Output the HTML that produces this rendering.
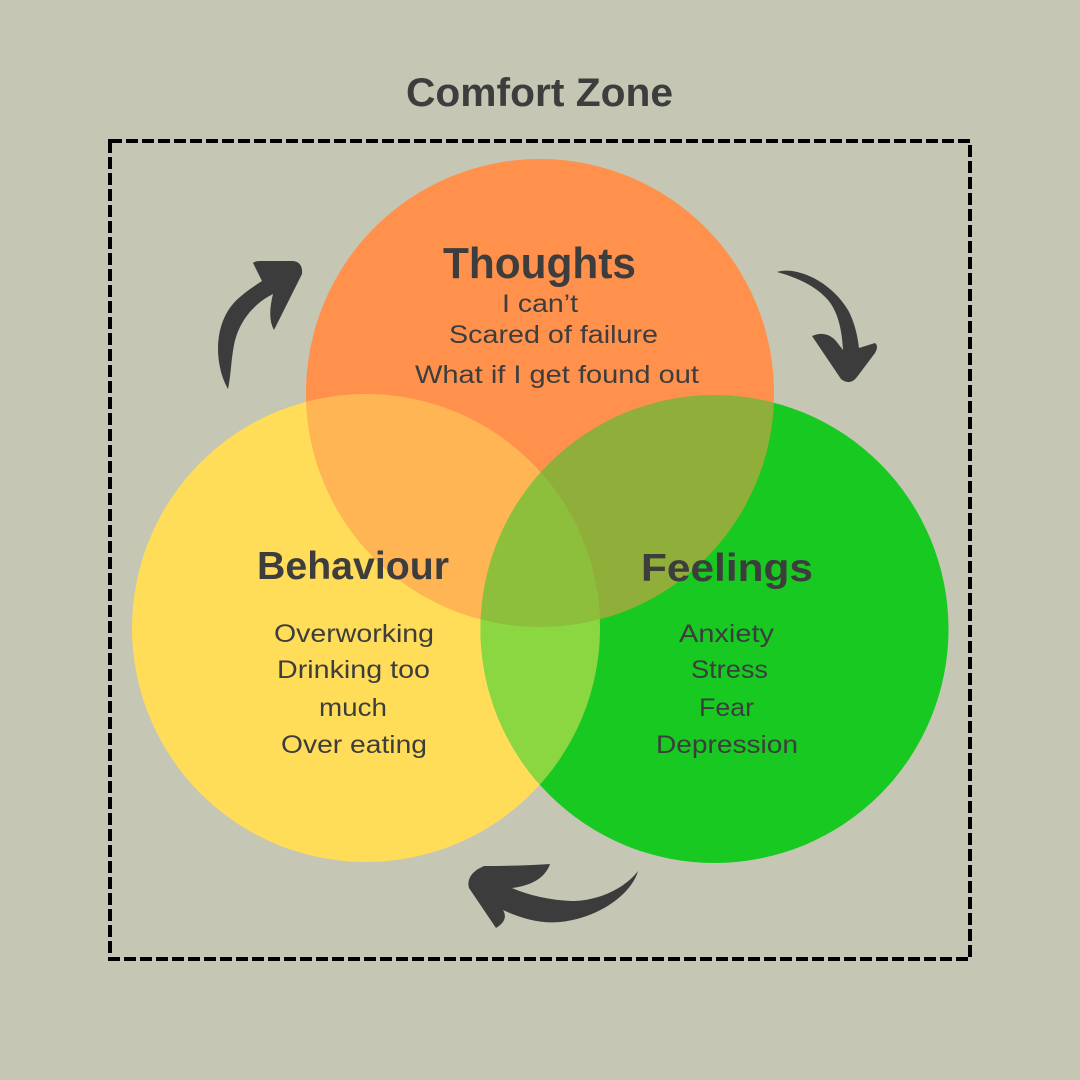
<!DOCTYPE html>
<html>
<head>
<meta charset="utf-8">
<style>
  html, body { margin: 0; padding: 0; background: #C5C6B4; }
  svg { display: block; }
  .t { font-family: "Liberation Sans", sans-serif; fill: #3d3d3d; }
</style>
</head>
<body>
<svg width="1080" height="1080" viewBox="0 0 1080 1080" xmlns="http://www.w3.org/2000/svg">
  <defs>
    <clipPath id="cO"><circle cx="540" cy="393" r="234"/></clipPath>
    <clipPath id="cG"><circle cx="714.5" cy="629" r="234"/></clipPath>
    <clipPath id="cY"><circle cx="366" cy="628" r="234"/></clipPath>
  </defs>
  <rect width="1080" height="1080" fill="#C5C6B4"/>

  <!-- Title -->
  <text class="t" x="406" y="106" font-size="40" font-weight="bold" textLength="267" lengthAdjust="spacingAndGlyphs">Comfort Zone</text>

  <!-- Dashed border -->
  <rect x="110" y="141" width="860" height="818" fill="none" stroke="#000" stroke-width="4" stroke-dasharray="12 4"/>

  <!-- Circles -->
  <circle cx="366" cy="628" r="234" fill="#FFDD58"/>
  <circle cx="714.5" cy="629" r="234" fill="#17C921"/>
  <circle cx="540" cy="393" r="234" fill="#FF914D"/>
  <!-- Overlaps -->
  <circle cx="366" cy="628" r="234" fill="#FFB554" clip-path="url(#cO)"/>
  <circle cx="714.5" cy="629" r="234" fill="#8FAE3A" clip-path="url(#cO)"/>
  <circle cx="366" cy="628" r="234" fill="#8AD741" clip-path="url(#cG)"/>
  <g clip-path="url(#cO)">
    <circle cx="366" cy="628" r="234" fill="#8DBF3D" clip-path="url(#cG)"/>
  </g>

  <!-- Arrows -->
  <path fill="#3c3c3c" d="M228,389 C214,365 212,320 240,297 C248,290 256,285 262,281 L253,263 Q255,261 260,261 L293,261 Q303,262 302,274 L274,330 Q267,318 273,294 C255,303 239,320 234,345 C231,360 231,375 228,389 Z"/>
  <path fill="#3c3c3c" d="M777,272 C795,266 830,280 848,310 C856,325 858,340 859,348 L875,343 Q879,346 875,353 L857,377 Q850,386 841,379 L812,336 Q826,330 836,341 L843,350 C842,330 838,312 828,300 C815,285 795,277 777,272 Z"/>
  <path fill="#3c3c3c" d="M638,871 C632,893 600,918 560,922 C540,924 520,918 503,910 Q509,920 496,928 L469,888 Q466,877 478,869 L484,866 Q520,866 550,864 Q543,884 512,888 C530,896 555,901 575,901 C600,900 625,888 638,871 Z"/>

  <!-- Thoughts -->
  <text class="t" x="443" y="278" font-size="44" font-weight="bold" textLength="193" lengthAdjust="spacingAndGlyphs">Thoughts</text>
  <text class="t" x="502" y="312" font-size="25" textLength="76" lengthAdjust="spacingAndGlyphs">I can’t</text>
  <text class="t" x="449" y="343" font-size="25" textLength="209" lengthAdjust="spacingAndGlyphs">Scared of failure</text>
  <text class="t" x="415" y="383" font-size="25" textLength="284" lengthAdjust="spacingAndGlyphs">What if I get found out</text>

  <!-- Behaviour -->
  <text class="t" x="257" y="579" font-size="39" font-weight="bold" textLength="192" lengthAdjust="spacingAndGlyphs">Behaviour</text>
  <text class="t" x="274" y="642" font-size="25" textLength="160" lengthAdjust="spacingAndGlyphs">Overworking</text>
  <text class="t" x="277" y="678" font-size="25" textLength="153" lengthAdjust="spacingAndGlyphs">Drinking too</text>
  <text class="t" x="319" y="716" font-size="25" textLength="68" lengthAdjust="spacingAndGlyphs">much</text>
  <text class="t" x="281" y="753" font-size="25" textLength="146" lengthAdjust="spacingAndGlyphs">Over eating</text>

  <!-- Feelings -->
  <text class="t" x="641" y="581" font-size="39" font-weight="bold" textLength="172" lengthAdjust="spacingAndGlyphs">Feelings</text>
  <text class="t" x="679" y="642" font-size="25" textLength="95" lengthAdjust="spacingAndGlyphs">Anxiety</text>
  <text class="t" x="691" y="678" font-size="25" textLength="77" lengthAdjust="spacingAndGlyphs">Stress</text>
  <text class="t" x="699" y="716" font-size="25" textLength="55" lengthAdjust="spacingAndGlyphs">Fear</text>
  <text class="t" x="656" y="753" font-size="25" textLength="142" lengthAdjust="spacingAndGlyphs">Depression</text>
</svg>
</body>
</html>
